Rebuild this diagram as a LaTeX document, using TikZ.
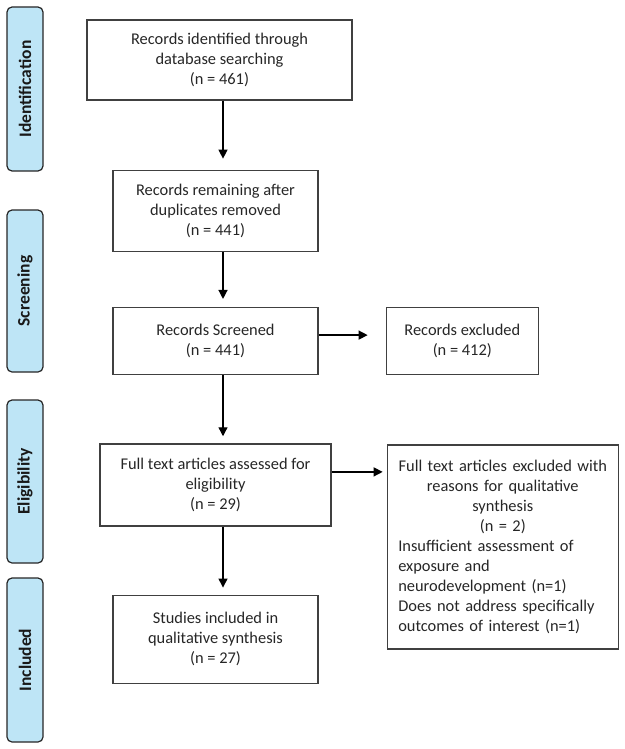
\documentclass[tikz,border=0pt]{standalone}
\usepackage{fontspec}
\setmainfont{Carlito}
\usepackage{xcolor}
\usetikzlibrary{arrows.meta, positioning}
\definecolor{stagefill}{RGB}{190,229,246}
\newcommand{\headline}[1]{\makebox[209pt][c]{#1}}
\tikzset{
        box/.style={rectangle, draw=black!75, line width=1.3pt, align=center, text=black!85, inner sep=4pt, font=\fontsize{16.4}{20}\selectfont},
        stage/.style={rectangle, draw=black!85, fill=stagefill, rounded corners=5pt, line width=1.2pt, rotate=90, minimum width=164pt, minimum height=36pt, text=black!90, font=\fontsize{17.5}{21}\selectfont\bfseries},
        arrow/.style={-{Triangle[length=9pt,width=9pt]}, line width=1.3pt, shorten >=7pt},
    }

\begin{document}
\begin{tikzpicture}[x=1pt, y=1pt]
        \useasboundingbox (0,0) rectangle (624,-749);

        % Stage bars
        \node[stage] (ident) at (25,-89) {Identification};
        \node[stage, minimum width=162pt] (screen) at (25,-291) {Screening};
        \node[stage, minimum width=163pt] (elig) at (25,-481.5) {Eligibility};
        \node[stage] (incl) at (25,-660) {Included};

        % Main column
        \node[box, minimum width=265pt, minimum height=80pt] (ident box) at (219.5,-60) {Records identified through\\database searching\\(n = 461)};
        \node[box, minimum width=205pt, minimum height=81pt, below=69pt of ident box, xshift=-4pt] (dup) {Records remaining after\\duplicates removed\\(n = 441)};
        \node[box, minimum width=205pt, minimum height=67pt, below=55pt of dup] (screened) {Records Screened\\(n = 441)};
        \node[box, minimum width=231pt, minimum height=82pt, below=68pt of screened] (fulltext) {Full text articles assessed for\\eligibility\\(n = 29)};
        \node[box, minimum width=205pt, minimum height=88pt, below=68pt of fulltext] (included) {Studies included in\\qualitative synthesis\\(n = 27)};

        % Exclusions
        \node[box, minimum width=152pt, minimum height=67pt, right=67pt of screened] (excluded) {Records excluded\\(n = 412)};
        \node[box, align=left, text width=209pt, inner xsep=11pt, minimum height=204pt, right=55pt of fulltext.north east, anchor=north west, yshift=-1pt] (ftexcl) {\headline{Full text articles excluded with}\\\headline{reasons for qualitative}\\\headline{synthesis}\\\headline{(n = 2)}\\Insufficient assessment of\\exposure and\\neurodevelopment (n=1)\\Does not address specifically\\outcomes of interest (n=1)};

        % Arrows
        \coordinate (spine) at (223,0);
        \draw[arrow, shorten >=11pt] (ident box.south -| spine) -- (dup.north -| spine);
        \draw[arrow, shorten >=8pt] (dup.south -| spine) -- (screened.north -| spine);
        \draw[arrow] (screened.south -| spine) -- (fulltext.north -| spine);
        \draw[arrow] (fulltext.south -| spine) -- (included.north -| spine);
        \draw[arrow, shorten >=18pt] ([yshift=6pt]screened.east) -- ([yshift=6pt]screened.east -| excluded.west);
        \draw[arrow, shorten >=4pt] ([yshift=13pt]fulltext.east) -- ([yshift=13pt]fulltext.east -| ftexcl.west);
    \end{tikzpicture}
\end{document}
